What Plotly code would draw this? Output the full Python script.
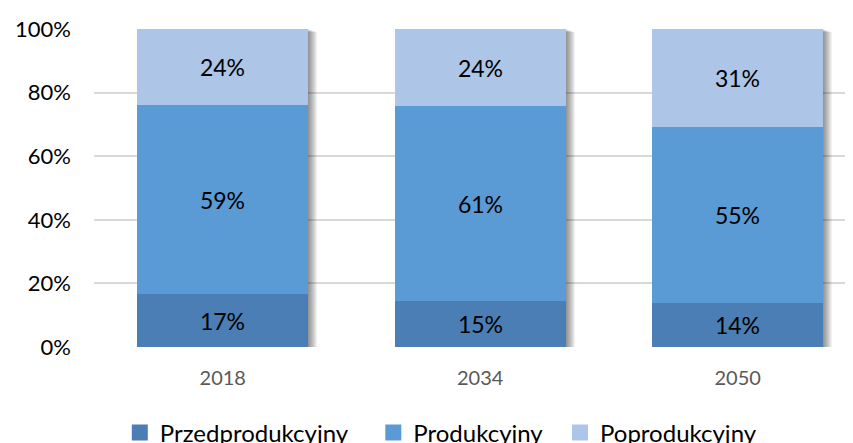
import plotly.graph_objects as go

years = ["2018", "2034", "2050"]
przed = [16.7, 14.5, 13.8]
prod = [59.4, 61.3, 55.4]
poprod = [23.9, 24.2, 30.8]
series_names = ["Przedprodukcyjny", "Produkcyjny", "Poprodukcyjny"]
colors = ["#4A7EB4", "#5A9AD5", "#ADC5E7"]
y_ticks = [0, 20, 40, 60, 80, 100]
y_tick_labels = ["0%", "20%", "40%", "60%", "80%", "100%"]

FONT = "Lato"
W = 0.664
x_idx = list(range(len(years)))
PX_X = 1 / 257.5   # data units per pixel (x)
PX_Y = 100 / 318   # data units per pixel (y)

fig = go.Figure()

# soft drop shadow behind each bar (drawn first)
totals = [a + b + c for a, b, c in zip(przed, prod, poprod)]
for k in range(1, 10):
    fig.add_trace(go.Bar(
        x=x_idx, y=totals, base=[-k * 0.35 * PX_Y] * len(years),
        width=W, offset=-W / 2 + k * PX_X,
        marker=dict(color="rgba(0,0,0,0.055)", line=dict(width=0)),
        showlegend=False, hoverinfo="skip"))

series = [przed, prod, poprod]
bases = [[0] * len(years), przed, [a + b for a, b in zip(przed, prod)]]
for name, vals, base, col in zip(series_names, series, bases, colors):
    fig.add_trace(go.Bar(
        x=x_idx, y=vals, base=base, width=W, name=name,
        marker=dict(color=col, line=dict(width=0)),
        texttemplate="%{y:.0f}%", textposition="inside",
        insidetextanchor="middle", textangle=0, constraintext="none",
        textfont=dict(family=FONT, size=23, color="#000000"),
        showlegend=False))

legend_keys = ["legend", "legend2", "legend3"]
for name, col, key in zip(series_names, colors, legend_keys):
    fig.add_trace(go.Scatter(
        x=[None], y=[None], mode="markers", name=name,
        marker=dict(symbol="square", size=16, color=col),
        showlegend=True, legend=key))

leg_common = dict(orientation="h", yanchor="middle", y=-0.27, xanchor="left",
                  font=dict(family=FONT, size=24, color="#000000"),
                  bgcolor="rgba(0,0,0,0)", itemclick=False)
fig.update_layout(
    width=845, height=435,
    margin=dict(l=86, r=0, t=21, b=96, autoexpand=False),
    paper_bgcolor="white", plot_bgcolor="white",
    barmode="overlay",
    bargap=0,
    font=dict(family=FONT),
    legend=dict(x=0.034, **leg_common),
    legend2=dict(x=0.368, **leg_common),
    legend3=dict(x=0.614, **leg_common),
    xaxis=dict(range=[-0.5, 2.448], tickvals=x_idx, ticktext=years,
               showgrid=False, zeroline=False, showline=False,
               ticks="", ticklabelstandoff=17,
               tickfont=dict(family=FONT, size=20, color="#595959")),
    yaxis=dict(range=[0, 100], tickvals=y_ticks, ticktext=y_tick_labels,
               showgrid=True, gridcolor="#D9D9D9", gridwidth=1.5,
               zeroline=False, showline=False, ticks="",
               ticklabelstandoff=22,
               tickfont=dict(family=FONT, size=22, color="#000000")),
)

fig.write_html("out.html")
